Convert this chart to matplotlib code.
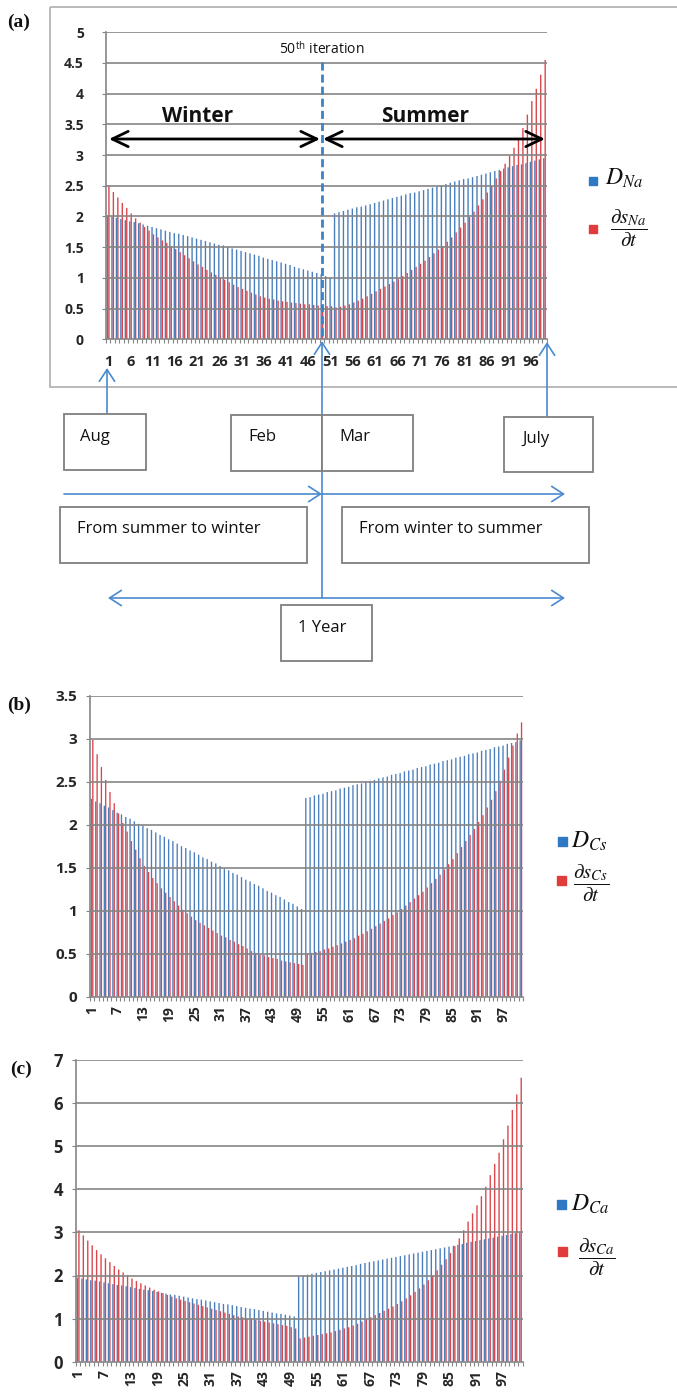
import numpy as np
import matplotlib
matplotlib.use('Agg')
import matplotlib.pyplot as plt
from matplotlib.patches import Rectangle

plt.rcParams['font.family'] = ['Open Sans', 'DejaVu Sans']
plt.rcParams['mathtext.fontset'] = 'stix'

W, H = 677, 1393

# (a) Na: 99 iterations, winter 1-51, summer 52-99
d_na = [2.02, 2.00, 1.98, 1.96, 1.94, 1.92, 1.91, 1.89, 1.87, 1.85,
        1.83, 1.81, 1.79, 1.77, 1.75, 1.73, 1.72, 1.70, 1.68, 1.66,
        1.64, 1.62, 1.60, 1.58, 1.56, 1.54, 1.53, 1.51, 1.48, 1.46,
        1.44, 1.42, 1.40, 1.38, 1.36, 1.33, 1.31, 1.29, 1.27, 1.25,
        1.23, 1.21, 1.18, 1.16, 1.14, 1.12, 1.10, 1.08, 1.06, 1.03,
        1.01,
        2.05, 2.07, 2.09, 2.11, 2.13, 2.15, 2.16, 2.18, 2.20, 2.22,
        2.24, 2.26, 2.28, 2.30, 2.32, 2.34, 2.36, 2.38, 2.39, 2.41,
        2.43, 2.45, 2.47, 2.49, 2.51, 2.53, 2.55, 2.57, 2.59, 2.61,
        2.62, 2.64, 2.66, 2.68, 2.70, 2.72, 2.74, 2.76, 2.78, 2.80,
        2.82, 2.84, 2.85, 2.87, 2.89, 2.91, 2.93, 2.95]
s_na = [2.51, 2.40, 2.31, 2.22, 2.14, 2.05, 1.97, 1.90, 1.83, 1.77,
        1.71, 1.66, 1.61, 1.57, 1.52, 1.47, 1.42, 1.37, 1.32, 1.27,
        1.22, 1.18, 1.13, 1.09, 1.05, 1.01, 0.97, 0.93, 0.89, 0.85,
        0.82, 0.79, 0.76, 0.73, 0.70, 0.68, 0.66, 0.65, 0.63, 0.62,
        0.61, 0.60, 0.59, 0.58, 0.57, 0.57, 0.56, 0.55, 0.55, 0.54,
        0.54,
        0.52, 0.53, 0.55, 0.57, 0.60, 0.63, 0.66, 0.70, 0.74, 0.78,
        0.82, 0.86, 0.90, 0.94, 0.98, 1.03, 1.08, 1.13, 1.18, 1.23,
        1.28, 1.34, 1.40, 1.46, 1.52, 1.59, 1.66, 1.74, 1.82, 1.90,
        1.99, 2.08, 2.18, 2.28, 2.39, 2.50, 2.62, 2.74, 2.86, 2.99,
        3.12, 3.27, 3.44, 3.66, 3.88, 4.08, 4.31, 4.55]

# (b) Cs: 101 iterations, winter 1-50, summer 51-101
d_cs = [2.30, 2.27, 2.25, 2.22, 2.20, 2.17, 2.14, 2.12, 2.09, 2.07,
        2.04, 2.01, 1.99, 1.96, 1.94, 1.91, 1.88, 1.86, 1.83, 1.81,
        1.78, 1.75, 1.73, 1.70, 1.68, 1.65, 1.62, 1.60, 1.57, 1.55,
        1.52, 1.49, 1.47, 1.44, 1.42, 1.39, 1.36, 1.34, 1.31, 1.29,
        1.26, 1.23, 1.21, 1.18, 1.16, 1.13, 1.10, 1.08, 1.05, 1.02,
        2.31, 2.32, 2.34, 2.35, 2.36, 2.38, 2.39, 2.40, 2.42, 2.43,
        2.44, 2.46, 2.47, 2.48, 2.50, 2.51, 2.52, 2.54, 2.55, 2.56,
        2.58, 2.59, 2.60, 2.62, 2.63, 2.64, 2.66, 2.67, 2.68, 2.70,
        2.71, 2.72, 2.74, 2.75, 2.76, 2.78, 2.79, 2.80, 2.82, 2.83,
        2.84, 2.86, 2.87, 2.88, 2.90, 2.91, 2.92, 2.94, 2.95, 2.96, 2.98]
s_cs = [2.99, 2.82, 2.67, 2.52, 2.38, 2.25, 2.13, 2.02, 1.92, 1.81,
        1.71, 1.61, 1.52, 1.45, 1.38, 1.32, 1.26, 1.21, 1.16, 1.11,
        1.06, 1.01, 0.97, 0.93, 0.89, 0.86, 0.83, 0.80, 0.77, 0.74,
        0.71, 0.69, 0.66, 0.64, 0.61, 0.59, 0.56, 0.53, 0.51, 0.49,
        0.48, 0.46, 0.45, 0.44, 0.42, 0.41, 0.40, 0.39, 0.38, 0.37,
        0.50, 0.51, 0.52, 0.53, 0.55, 0.56, 0.58, 0.60, 0.62, 0.64,
        0.66, 0.68, 0.71, 0.73, 0.76, 0.79, 0.82, 0.85, 0.88, 0.91,
        0.95, 0.98, 1.02, 1.06, 1.10, 1.14, 1.18, 1.22, 1.27, 1.32,
        1.37, 1.42, 1.48, 1.54, 1.60, 1.67, 1.74, 1.81, 1.88, 1.95,
        2.03, 2.11, 2.20, 2.29, 2.39, 2.51, 2.64, 2.78, 2.92, 3.06, 3.19]

# (c) Ca: 101 iterations, winter 1-50, summer 51-101
d_ca = [1.95, 1.93, 1.91, 1.89, 1.88, 1.86, 1.84, 1.82, 1.80, 1.78,
        1.77, 1.75, 1.73, 1.71, 1.69, 1.67, 1.66, 1.64, 1.62, 1.60,
        1.58, 1.56, 1.55, 1.53, 1.51, 1.49, 1.47, 1.45, 1.44, 1.42,
        1.40, 1.38, 1.36, 1.34, 1.33, 1.31, 1.29, 1.27, 1.25, 1.23,
        1.22, 1.20, 1.18, 1.16, 1.14, 1.12, 1.11, 1.09, 1.07, 1.05,
        1.98, 2.00, 2.02, 2.04, 2.06, 2.08, 2.10, 2.12, 2.14, 2.16,
        2.18, 2.20, 2.22, 2.24, 2.27, 2.29, 2.31, 2.33, 2.35, 2.37,
        2.39, 2.41, 2.43, 2.45, 2.47, 2.49, 2.51, 2.53, 2.55, 2.57,
        2.59, 2.61, 2.63, 2.65, 2.67, 2.69, 2.71, 2.73, 2.76, 2.78,
        2.80, 2.82, 2.84, 2.86, 2.88, 2.90, 2.92, 2.94, 2.96, 2.98, 3.00]
s_ca = [3.05, 2.93, 2.81, 2.70, 2.59, 2.49, 2.40, 2.31, 2.22, 2.14,
        2.07, 2.00, 1.93, 1.87, 1.82, 1.77, 1.72, 1.67, 1.63, 1.59,
        1.55, 1.51, 1.47, 1.44, 1.41, 1.38, 1.35, 1.32, 1.29, 1.26,
        1.23, 1.20, 1.17, 1.14, 1.11, 1.08, 1.05, 1.03, 1.01, 0.99,
        0.97, 0.95, 0.93, 0.91, 0.89, 0.87, 0.85, 0.83, 0.80, 0.77,
        0.54, 0.56, 0.58, 0.60, 0.62, 0.64, 0.66, 0.68, 0.71, 0.74,
        0.77, 0.80, 0.84, 0.88, 0.93, 0.98, 1.03, 1.08, 1.13, 1.18,
        1.23, 1.28, 1.34, 1.40, 1.47, 1.54, 1.62, 1.70, 1.79, 1.89,
        2.00, 2.12, 2.25, 2.38, 2.52, 2.68, 2.86, 3.05, 3.25, 3.44,
        3.63, 3.84, 4.06, 4.33, 4.59, 4.85, 5.16, 5.48, 5.84, 6.20, 6.59]

BLUE = '#4a7ebb'
RED = '#d9464b'
GRID = '#858585'
TXT = '#262626'
ARROW = '#4a8ad0'
BOX = '#7f7f7f'


def rect(l, t, r, b):
    return [l / W, 1 - b / H, (r - l) / W, (b - t) / H]


fig = plt.figure(figsize=(W / 100, H / 100), dpi=100)


def panel(pos, d, s, ymax, ystep, xstep, ysize, xsize, ypad, xpad, rot):
    ax = fig.add_axes(rect(*pos))
    k = np.arange(1, len(d) + 1)
    ax.bar(k - 0.16, d, width=0.31, color=BLUE, linewidth=0, zorder=2, snap=False)
    ax.bar(k + 0.16, s, width=0.31, color=RED, linewidth=0, zorder=2, snap=False)
    ax.set_xlim(0.5, len(d) + 0.5)
    ax.set_ylim(0, ymax)
    yt = np.arange(0, ymax + 0.001, ystep)
    for v in yt[1:]:
        ax.axhline(v, color=GRID, lw=1.2, zorder=3)
    ax.set_yticks(yt)
    ax.set_yticklabels([f'{v:g}' for v in yt], fontsize=ysize,
                       fontweight='bold', color=TXT)
    xt = k[::xstep]
    ax.set_xticks(xt)
    ax.set_xticklabels([str(v) for v in xt], fontsize=xsize,
                       fontweight='bold', color=TXT, rotation=rot)
    ax.set_xticks(np.arange(0.5, len(d) + 1), minor=True)
    ax.tick_params(axis='x', which='major', length=0, pad=xpad)
    ax.tick_params(axis='x', which='minor', length=3, width=0.8, color=GRID)
    ax.tick_params(axis='y', length=3, width=0.8, color=GRID, pad=ypad)
    for side in ('top', 'right'):
        ax.spines[side].set_visible(False)
    for side in ('left', 'bottom'):
        ax.spines[side].set_color(GRID)
        ax.spines[side].set_linewidth(1.2)
        ax.spines[side].set_zorder(4)
    return ax


ax_a = panel((106, 32.3, 546.7, 339.3), d_na, s_na, 5, 0.5, 5, 10, 10.5, 13, 11, 0)
ax_b = panel((90, 695.7, 523, 996.7), d_cs, s_cs, 3.5, 0.5, 6, 11, 10, 6.5, 6.5, 90)
ax_c = panel((76, 1060, 522.7, 1361.7), d_ca, s_ca, 7, 1, 6, 12, 10, 6.5, 6, 90)

# overlay in pixel coordinates for the annotations
ov = fig.add_axes([0, 0, 1, 1])
ov.set_xlim(0, W)
ov.set_ylim(H, 0)
ov.axis('off')


def arrow(x0, y0, x1, y1, style='->', color=ARROW, lw=1.2, hl=0.85, hw=0.55):
    ov.annotate('', xy=(x1, y1), xytext=(x0, y0), zorder=2,
                arrowprops=dict(arrowstyle=f'{style},head_length={hl},head_width={hw}',
                                color=color, lw=lw, shrinkA=0, shrinkB=0))


def box(x0, y0, x1, y1, text, tx, ty):
    ov.add_patch(Rectangle((x0, y0), x1 - x0, y1 - y0, facecolor='white',
                           edgecolor=BOX, lw=1.3, zorder=3))
    ov.text(tx, ty, text, fontsize=12, color='#111111', va='center', zorder=4)


# frame around panel (a)
ov.add_patch(Rectangle((50, 7), 700, 379.5, facecolor='none',
                       edgecolor='#b4b4b4', lw=1.3, zorder=1))

# 50th iteration marker
ov.plot([322, 322], [62, 340], color='#3b82c8', lw=2, dashes=(2.9, 1.45), zorder=2)
ov.text(322, 50, r'50$^{\mathregular{th}}$ iteration', fontsize=10,
        ha='center', va='center', color='#111111')

# winter / summer
arrow(109, 139, 320, 139, '<->', 'black', 2, 1.15, 0.55)
arrow(323, 139, 545, 139, '<->', 'black', 2, 1.15, 0.55)
ov.text(198, 117, 'Winter', fontsize=15, fontweight='bold', ha='center',
        va='center', color='#111111')
ov.text(425, 117, 'Summer', fontsize=15, fontweight='bold', ha='center',
        va='center', color='#111111')

# timeline arrows
arrow(322, 598, 322, 341)
arrow(107, 414, 107, 368)
arrow(547, 417, 547, 342)
arrow(64, 494, 322, 494)
arrow(322, 494, 565, 494)
arrow(108, 598, 565, 598, '<->')

box(64, 414, 146, 470, 'Aug', 80, 437)
box(231, 415, 322, 471, 'Feb', 248, 437)
box(322, 415, 413, 471, 'Mar', 339, 437)
box(504, 417, 593, 472, 'July', 522, 439)
box(60, 507, 307, 563, 'From summer to winter', 77, 529)
box(342, 507, 589, 563, 'From winter to summer', 359, 529)
box(281, 605, 372, 661, '1 Year', 298, 628)

# panel letters
for lbl, x, y in (('(a)', 7, 22), ('(b)', 7, 705), ('(c)', 10, 1069)):
    ov.text(x, y, lbl, fontsize=14, fontweight='bold', family='Liberation Serif',
            va='center', color='#111111')

# legends
legends = [
    ((589, 177, 8), r'$D_{Na}$', (605, 179), (589, 225, 8),
     r'$\dfrac{\partial s_{Na}}{\partial t}$', (629, 228)),
    ((558, 837, 9), r'$D_{Cs}$', (571, 842), (557, 876, 9),
     r'$\dfrac{\partial s_{Cs}}{\partial t}$', (591, 883)),
    ((557, 1200, 9), r'$D_{Ca}$', (571, 1205), (558, 1247, 9),
     r'$\dfrac{\partial s_{Ca}}{\partial t}$', (597, 1257)),
]
for bsq, dtxt, dpos, rsq, stxt, spos in legends:
    ov.add_patch(Rectangle((bsq[0], bsq[1]), bsq[2], bsq[2], color='#2f78c4', zorder=3))
    ov.add_patch(Rectangle((rsq[0], rsq[1]), rsq[2], rsq[2], color='#e03c3c', zorder=3))
    ov.text(dpos[0], dpos[1], dtxt, fontsize=17, va='center', color='#111111')
    ov.text(spos[0], spos[1], stxt, fontsize=15, ha='center', va='center',
            color='#111111')

fig.savefig('out.png', dpi=100)
